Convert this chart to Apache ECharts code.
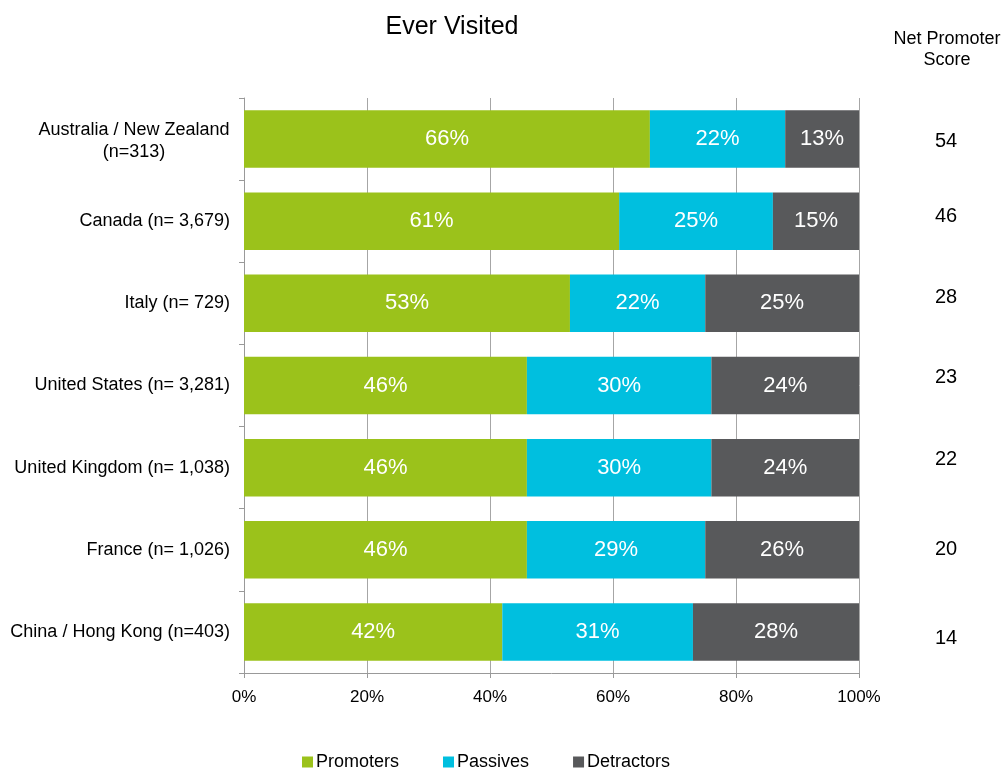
<!DOCTYPE html>
<html>
<head>
<meta charset="utf-8">
<script src="https://cdn.jsdelivr.net/npm/echarts@6/dist/echarts.min.js"></script>
<style>
  html, body { margin: 0; padding: 0; background: #fff; }
  #renderChart { width: 1005px; height: 770px; }
</style>
</head>
<body>
<div id="renderChart"></div>
<script>
// categories, top to bottom
const countries = [
  'Australia / New Zealand\n(n=313)',
  'Canada (n= 3,679)',
  'Italy (n= 729)',
  'United States (n= 3,281)',
  'United Kingdom (n= 1,038)',
  'France (n= 1,026)',
  'China / Hong Kong (n=403)'
];
const promoters = [66, 61, 53, 46, 46, 46, 42];
const passives = [22, 25, 22, 30, 30, 29, 31];
const detractors = [13, 15, 25, 24, 24, 26, 28];
const npsScores = ['54', '46', '28', '23', '22', '20', '14'];
const xTicks = [0, 20, 40, 60, 80, 100];

const myChart = echarts.init(document.getElementById('renderChart'));

const font = 'Liberation Sans, Arial, sans-serif';
const barLabel = {
  show: true,
  position: 'inside',
  color: '#fff',
  fontSize: 22,
  fontFamily: font,
  formatter: p => p.value + '%'
};

// the score column in the source sits a little off the bar centres
const npsNudge = [2, -5, -6, -8, -8, 0, 7];
const npsRich = {};
npsNudge.forEach((d, i) => {
  npsRich['s' + i] = {
    fontSize: 20, color: '#000', fontFamily: font,
    padding: d >= 0 ? [2 * d, 0, 0, 0] : [0, 0, -2 * d, 0]
  };
});

const option = {
  animation: false,
  textStyle: { fontFamily: font },
  title: [
    {
      text: 'Ever Visited',
      left: 447, top: 10, textAlign: 'center',
      textStyle: { fontSize: 25, fontWeight: 'normal', color: '#000', fontFamily: font }
    },
    {
      text: 'Net Promoter\nScore',
      left: 942, top: 24, textAlign: 'center',
      textStyle: { fontSize: 18, fontWeight: 'normal', color: '#000', fontFamily: font, lineHeight: 21 }
    }
  ],
  legend: {
    top: 748,
    left: 297,
    itemWidth: 11,
    itemHeight: 11,
    itemGap: 44,
    icon: 'rect',
    textStyle: { fontSize: 18, color: '#000', fontFamily: font, padding: [0, 0, 0, -2] },
    data: ['Promoters', 'Passives', 'Detractors']
  },
  grid: { left: 244, right: 146, top: 98, bottom: 97, containLabel: false },
  xAxis: {
    type: 'value',
    min: xTicks[0],
    max: xTicks[xTicks.length - 1],
    interval: xTicks[1] - xTicks[0],
    axisLine: { show: true, lineStyle: { color: '#999' } },
    axisTick: { show: true, length: 5, lineStyle: { color: '#999' } },
    splitLine: { show: true, lineStyle: { color: '#a6a6a6' } },
    axisLabel: { formatter: '{value}%', fontSize: 17, color: '#000', margin: 16, fontFamily: font }
  },
  yAxis: [
    {
      type: 'category',
      data: countries,
      inverse: true,
      axisLine: { show: true, lineStyle: { color: '#999' } },
      axisTick: { show: true, length: 5, lineStyle: { color: '#999' } },
      axisLabel: {
        fontSize: 18, color: '#000', margin: 14, lineHeight: 22, fontFamily: font,
        // two-line labels are centred within their own block
        formatter: v => v.indexOf('\n') >= 0 ? '{m|' + v + '}' : v,
        rich: {
          m: { fontSize: 18, color: '#000', lineHeight: 22, fontFamily: font, width: 192, align: 'center', padding: [4, 0, 0, 0] }
        }
      }
    },
    {
      type: 'category',
      data: npsScores,
      inverse: true,
      position: 'right',
      axisLine: { show: false },
      axisTick: { show: false },
      axisLabel: {
        margin: 76,
        formatter: (v, i) => '{s' + i + '|' + v + '}',
        rich: npsRich
      }
    }
  ],
  series: [
    {
      name: 'Promoters', type: 'bar', stack: 'total', data: promoters,
      barCategoryGap: '30%',
      itemStyle: { color: '#9bc21b' }, label: barLabel
    },
    {
      name: 'Passives', type: 'bar', stack: 'total', data: passives,
      itemStyle: { color: '#00bfdf' }, label: barLabel
    },
    {
      name: 'Detractors', type: 'bar', stack: 'total', data: detractors,
      itemStyle: { color: '#58595b' }, label: barLabel
    }
  ]
};

myChart.setOption(option);
</script>
</body>
</html>
